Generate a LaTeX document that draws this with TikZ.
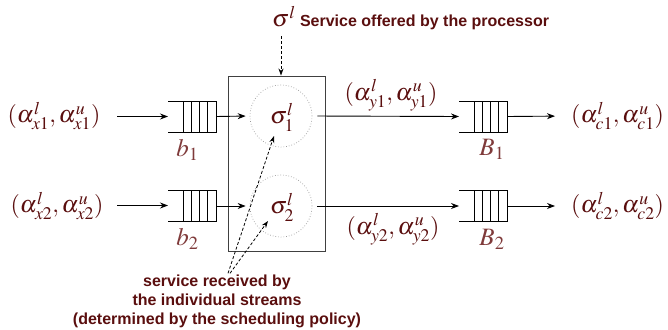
\documentclass[tikz,border=0pt]{standalone}
\usepackage{mathptmx}
\usepackage[no-math]{fontspec}
\newfontfamily\sfb{Liberation Sans}
\usetikzlibrary{arrows.meta,calc}
\definecolor{mar}{HTML}{5A0E0E}
\definecolor{lbl}{HTML}{7F3A3A}
\newcommand\queuelines[1]{%
  \draw[qline] (#1.north west) -- (#1.north east) -- (#1.south east) -- (#1.south west);
  \foreach \d in {15,23.25,31.5,39.75}
    \draw[qline] ([xshift=\d pt]#1.north west) -- ([xshift=\d pt]#1.south west);
}
\begin{document}
\begin{tikzpicture}[x=1pt,y=-1pt,
  qline/.style={line width=0.9pt},
  qbox/.style={minimum width=48pt,minimum height=31pt,inner sep=0,outer sep=0},
  arr/.style={-{Stealth[length=8pt,width=6pt]},line width=0.9pt},
  darr/.style={-{Stealth[length=7pt,width=5pt]},line width=0.8pt,dashed,dash pattern=on 3pt off 2pt},
  mth/.style={text=mar,font=\fontsize{24}{28}\selectfont,inner sep=0},
  lab/.style={text=lbl,font=\fontsize{25}{28}\selectfont,inner sep=0},
  note/.style={text=mar,font=\sfb\bfseries\fontsize{16}{19}\selectfont,align=center,inner sep=0},
  circ/.style={circle,draw=gray!80,dotted,line width=0.7pt,minimum size=62pt,inner sep=0}
]
\useasboundingbox (0,0) rectangle (668,329);

% processor box and circles
\node[draw=black!75,line width=0.9pt,minimum width=97pt,minimum height=175pt,inner sep=0] (proc) at (276.5,163.5) {};
\node[circ] (c1) at (281,116) {};
\node[circ] (c2) at (281,206) {};
\node[mth] (s1) at (282,117) {$\sigma^l_1$};
\node[mth] (s2) at (282,207) {$\sigma^l_2$};

% input queues
\node[qbox] (q1) at (192,116.5) {};
\node[qbox] (q2) at (192,205.5) {};
\queuelines{q1}
\queuelines{q2}
% output queues
\node[qbox] (Q1) at (483,116.5) {};
\node[qbox] (Q2) at (483,205.5) {};
\queuelines{Q1}
\queuelines{Q2}

% labels under queues
\node[lab] (b1) at (187.5,150) {$b_1$};
\node[lab] (b2) at (187.5,239) {$b_2$};
\node[lab] (B1) at (492,149) {$B_1$};
\node[lab] (B2) at (492,239) {$B_2$};

% input texts
\node[mth,minimum width=100pt] (in1) at (54,116) {$(\alpha^l_{x1},\alpha^u_{x1})$};
\node[mth,minimum width=100pt] (in2) at (57,206) {$(\alpha^l_{x2},\alpha^u_{x2})$};
% output texts
\node[mth,anchor=west] (out1) at (571,116) {$(\alpha^l_{c1},\alpha^u_{c1})$};
\node[mth,anchor=west] (out2) at (571,206) {$(\alpha^l_{c2},\alpha^u_{c2})$};
% intermediate texts
\node[mth] (y1) at (391,95) {$(\alpha^l_{y1},\alpha^u_{y1})$};
\node[mth] (y2) at (393,229) {$(\alpha^l_{y2},\alpha^u_{y2})$};

% connectors
\draw[arr,shorten <=13pt] (in1.east |- q1.west) -- (q1.west);
\draw[arr,shorten <=10pt] (in2.east |- q2.west) -- (q2.west);
\draw[arr,shorten >=4pt] (q1.east) -- (c1.west);
\draw[arr,shorten >=4pt] (q2.east |- c2.west) -- (c2.west);
\draw[arr,shorten <=5pt] (c1.east) -- (Q1.west);
\draw[arr,shorten <=5pt] (c2.east) -- (Q2.west |- c2.east);
\draw[arr,shorten >=16pt] (Q1.east) -- (out1.west);
\draw[arr,shorten >=16pt] (Q2.east |- out2.west) -- (out2.west);

% top note
\node[note,anchor=west] (top) at (272,18) {{\mdseries\fontsize{24}{28}\selectfont$\sigma^l$}\ Service offered by the processor};
\draw[darr] (c1 |- top.south) ++(0,6) -- (c1 |- proc.north);

% bottom note
\node[note] (bot) at (217,301) {service received by\\the individual streams\\(determined by the scheduling policy)};
\coordinate (d0) at ($(bot.north)+(11,-1)$);
\draw[darr] (d0) -- ($(c1)+(-7,20)$);
\draw[darr] ($(d0)+(2,0)$) -- ($(c2)+(-13,15)$);
\end{tikzpicture}
\end{document}
